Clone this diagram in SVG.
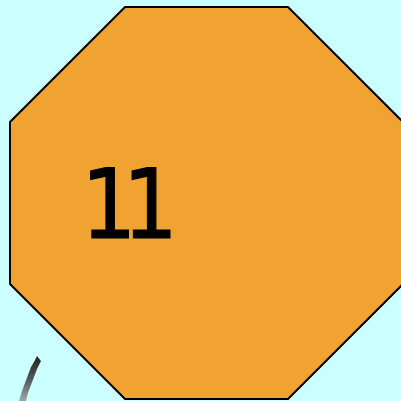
<svg xmlns="http://www.w3.org/2000/svg" width="401" height="401" viewBox="0 0 401 401">
<defs>
<style>
.oct{fill:#f0a331;stroke:#000;stroke-width:2}
.lbl{font-family:"DejaVu Sans Condensed","DejaVu Sans",sans-serif;font-size:97px;fill:#000;stroke:#000;stroke-width:1}
</style>
<linearGradient id="g" x1="0" y1="0" x2="0" y2="1">
<stop offset="0" stop-color="#222"/>
<stop offset="0.5" stop-color="#555"/>
<stop offset="1" stop-color="#9aa"/>
</linearGradient>
</defs>
<rect width="401" height="401" fill="#ccffff"/>
<g id="node11">
<polygon class="oct" points="125,7 288,7 403,122 403,284 288,399 125,399 10,284 10,122"/>
<text class="lbl" x="81" y="238" letter-spacing="-14">11</text>
</g>
<g id="mark">
<polygon fill="url(#g)" points="37,356 41,361 37,369 34,377 31,385 28,393 26,401 19,401 22,391 25,383 28,375 31,367 34,362"/>
</g>
</svg>
